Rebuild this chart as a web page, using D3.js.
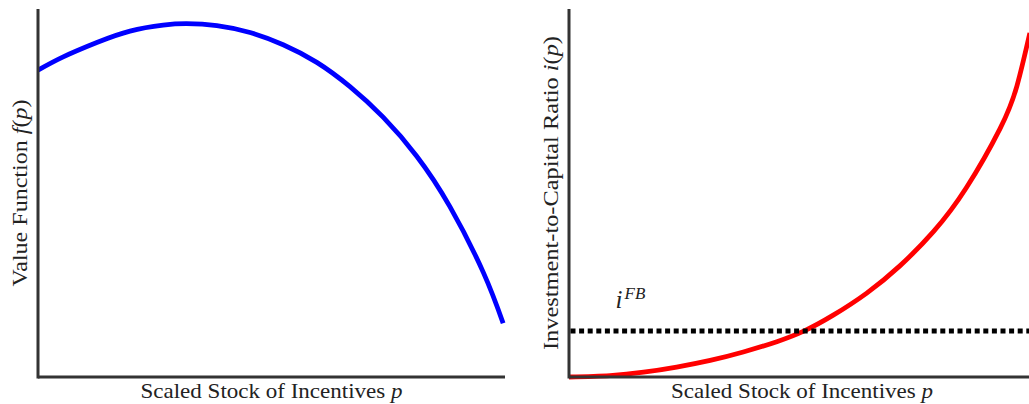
<!DOCTYPE html>
<html>
<head>
<meta charset="utf-8">
<script src="https://cdn.jsdelivr.net/npm/d3@7"></script>
<style>
  body { margin: 0; background: #fff; }
  svg { display: block; }
  text { font-family: "Liberation Serif", "Times New Roman", serif; fill: #222; }
</style>
</head>
<body>
<svg id="chart" width="1029" height="404"></svg>
<script>
// value function f(p) (p and f on a 0..1 scale)
var leftP = [0, 0.054, 0.126, 0.197, 0.268, 0.318, 0.383, 0.454, 0.525, 0.597, 0.668, 0.739, 0.811, 0.882, 0.954, 0.996];
var leftF = [0.834, 0.870, 0.909, 0.940, 0.956, 0.960, 0.955, 0.936, 0.903, 0.855, 0.789, 0.706, 0.600, 0.463, 0.283, 0.146];

// investment-to-capital ratio i(p), right panel
var rightP = [0, 0.088, 0.160, 0.231, 0.303, 0.374, 0.446, 0.506, 0.567, 0.639, 0.710, 0.782, 0.853, 0.925, 0.961, 0.989];
var rightI = [0, 0.004, 0.013, 0.027, 0.045, 0.068, 0.096, 0.126, 0.168, 0.228, 0.302, 0.395, 0.515, 0.675, 0.790, 0.935];

var iFB = 0.125;

var xLabel = "Scaled Stock of Incentives ";
var leftYLabel = "Value Function ";
var rightYLabel = "Investment-to-Capital Ratio ";

var svg = d3.select("#chart");

var plotTop = 9, plotBottom = 377;

function panel(x0, x1, ps, vs, color, yText, yVar, yLabelX, yLen) {
	var x = d3.scaleLinear().domain([0, 1]).range([x0, x1]);
	var y = d3.scaleLinear().domain([0, 1]).range([plotBottom, plotTop]);
	var g = svg.append("g");

	var line = d3.line()
		.x(function(d) { return x(d[0]); })
		.y(function(d) { return y(d[1]); })
		.curve(d3.curveNatural);
	var pts = ps.map(function(p, i) { return [p, vs[i]]; });

	g.append("path")
		.datum(pts)
		.attr("d", line)
		.attr("fill", "none")
		.attr("stroke", color)
		.attr("stroke-width", 4.8);

	// axes drawn on top of the curve ends
	g.append("line")
		.attr("x1", x(0)).attr("x2", x(1))
		.attr("y1", y(0)).attr("y2", y(0))
		.attr("stroke", "#333").attr("stroke-width", 3);
	g.append("line")
		.attr("x1", x(0)).attr("x2", x(0))
		.attr("y1", y(0) + 1.5).attr("y2", y(1))
		.attr("stroke", "#333").attr("stroke-width", 3);

	var xl = g.append("text")
		.attr("x", (x0 + x1) / 2)
		.attr("y", 398)
		.attr("text-anchor", "middle")
		.attr("font-size", 21)
		.attr("textLength", 262)
		.attr("lengthAdjust", "spacingAndGlyphs");
	xl.append("tspan").text(xLabel);
	xl.append("tspan").attr("font-style", "italic").text("p");

	var yl = g.append("text")
		.attr("transform", "translate(" + yLabelX + "," + ((plotTop + plotBottom) / 2) + ") rotate(-90)")
		.attr("text-anchor", "middle")
		.attr("font-size", 21)
		.attr("textLength", yLen)
		.attr("lengthAdjust", "spacingAndGlyphs");
	yl.append("tspan").text(yText);
	yl.append("tspan").attr("font-style", "italic").text(yVar);
	yl.append("tspan").text("(");
	yl.append("tspan").attr("font-style", "italic").text("p");
	yl.append("tspan").text(")");

	return { x: x, y: y, g: g };
}

panel(38, 505, leftP, leftF, "#0000ff", leftYLabel, "f", 27, 187);
var r = panel(569, 1035, rightP, rightI, "#ff0000", rightYLabel, "i", 558, 314);

// first-best investment level
r.g.append("line")
	.attr("x1", r.x(0) + 1.5).attr("x2", r.x(1))
	.attr("y1", r.y(iFB)).attr("y2", r.y(iFB))
	.attr("stroke", "#000")
	.attr("stroke-width", 5)
	.attr("stroke-dasharray", "5,3.6");

var lab = r.g.append("text")
	.attr("x", r.x(0.1))
	.attr("y", r.y(iFB) - 23)
	.attr("font-size", 25);
lab.append("tspan").attr("font-style", "italic").text("i");
lab.append("tspan").attr("font-style", "italic").attr("font-size", 17).attr("dx", 2).attr("dy", -9).text("FB");
</script>
</body>
</html>
